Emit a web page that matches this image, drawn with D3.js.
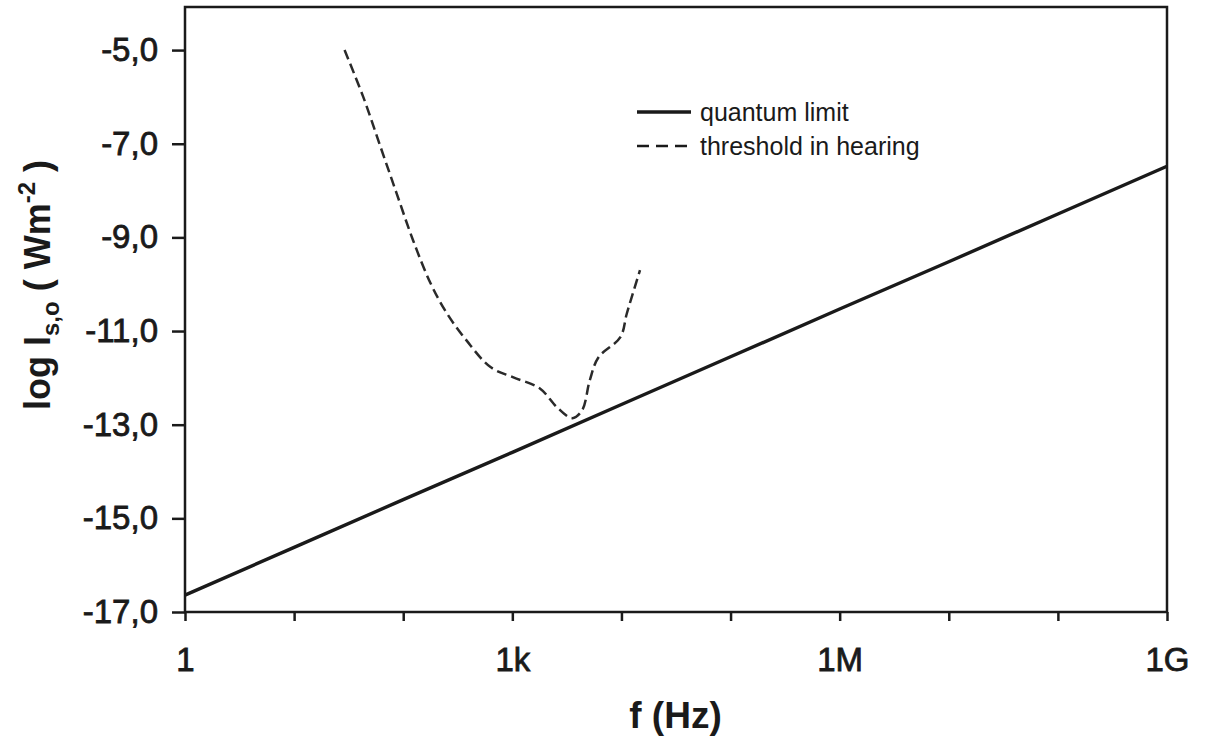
<!DOCTYPE html>
<html>
<head>
<meta charset="utf-8">
<title>Quantum limit vs hearing threshold</title>
<script src="https://cdn.jsdelivr.net/npm/d3@7"></script>
<style>
  body { margin: 0; background: #fff; }
  text { font-family: "Liberation Sans", Arial, sans-serif; fill: #1a1a1a; }
</style>
</head>
<body>
<div id="chart"></div>
<script>
// quantum limit, log I at each decade of f (1 Hz ... 1 GHz)
var quantumFreq = [1, 1e1, 1e2, 1e3, 1e4, 1e5, 1e6, 1e7, 1e8, 1e9];
var quantumLogI = [-16.64, -15.62, -14.6, -13.59, -12.57, -11.55, -10.53, -9.52, -8.5, -7.48];

// threshold in hearing
var hearingFreq = [29, 43, 62, 87, 123, 178, 251, 380, 631, 1023, 1778, 2570, 3548, 4365, 5129, 6166, 9772, 11220, 14791];
var hearingLogI = [-5.0, -6.0, -7.07, -8.06, -9.06, -9.98, -10.62, -11.2, -11.77, -11.99, -12.22, -12.63, -12.86, -12.69, -12.05, -11.56, -11.13, -10.62, -9.7];

var yTicks = [-5, -7, -9, -11, -13, -15, -17];
var xTicks = [1, 1e1, 1e2, 1e3, 1e4, 1e5, 1e6, 1e7, 1e8, 1e9];
var xTickLabels = {1: "1", 1e3: "1k", 1e6: "1M", 1e9: "1G"};

var legendNames = ["quantum limit", "threshold in hearing"];

var width = 1207, height = 740;
var plotLeft = 185, plotRight = 1167, plotTop = 7, plotBottom = 612;

var svg = d3.select("#chart").append("svg")
  .attr("width", width)
  .attr("height", height);

var x = d3.scaleLog().domain([1, 1e9]).range([plotLeft, plotRight]);
var y = d3.scaleLinear().domain([-17, -4.08]).range([plotBottom, plotTop]);

// frame
svg.append("rect")
  .attr("x", plotLeft).attr("y", plotTop)
  .attr("width", plotRight - plotLeft).attr("height", plotBottom - plotTop)
  .attr("fill", "none").attr("stroke", "#1a1a1a").attr("stroke-width", 2.5);

// axes
var xAxis = d3.axisBottom(x)
  .tickValues(xTicks)
  .tickSize(9)
  .tickPadding(27)
  .tickFormat(function(d) { return xTickLabels[d] || ""; });

var gx = svg.append("g").attr("transform", "translate(0," + plotBottom + ")").call(xAxis);
gx.select(".domain").remove();
gx.selectAll("line").attr("stroke", "#1a1a1a").attr("stroke-width", 2.5);
gx.selectAll("text")
  .style("font-size", "33px")
  .attr("fill", "#1a1a1a")
  .attr("stroke", "#1a1a1a").attr("stroke-width", 0.8);

var yAxis = d3.axisLeft(y)
  .tickValues(yTicks)
  .tickSize(13)
  .tickPadding(14)
  .tickFormat(function(d) { return d3.format(".1f")(d).replace(".", ",").replace("−", "-"); });

var gy = svg.append("g").attr("transform", "translate(" + plotLeft + ",0)").call(yAxis);
gy.select(".domain").remove();
gy.selectAll("line").attr("stroke", "#1a1a1a").attr("stroke-width", 2.5);
gy.selectAll("text")
  .style("font-size", "33px")
  .attr("fill", "#1a1a1a")
  .attr("stroke", "#1a1a1a").attr("stroke-width", 0.8);

// lines
var quantumLine = d3.line()
  .x(function(d, i) { return x(quantumFreq[i]); })
  .y(function(d) { return y(d); });

svg.append("path")
  .datum(quantumLogI)
  .attr("d", quantumLine)
  .attr("fill", "none")
  .attr("stroke", "#1a1a1a")
  .attr("stroke-width", 3.4);

var hearingLine = d3.line()
  .curve(d3.curveCatmullRom)
  .x(function(d, i) { return x(hearingFreq[i]); })
  .y(function(d) { return y(d); });

svg.append("path")
  .datum(hearingLogI)
  .attr("d", hearingLine)
  .attr("fill", "none")
  .attr("stroke", "#2a2a2a")
  .attr("stroke-width", 2.5)
  .attr("stroke-dasharray", "10,5");

// legend
var legend = svg.append("g").attr("transform", "translate(637,112)");
legend.selectAll("line").data(legendNames).enter().append("line")
  .attr("x1", 0).attr("x2", 54)
  .attr("y1", function(d, i) { return i * 34; })
  .attr("y2", function(d, i) { return i * 34; })
  .attr("stroke", "#1a1a1a")
  .attr("stroke-width", function(d, i) { return i == 0 ? 3.4 : 2.5; })
  .attr("stroke-dasharray", function(d, i) { return i == 0 ? null : "12,7"; });
legend.selectAll("text").data(legendNames).enter().append("text")
  .attr("x", 63)
  .attr("y", function(d, i) { return i * 34; })
  .attr("dy", "0.35em")
  .style("font-size", "25px")
  .text(function(d) { return d; });

// axis titles
svg.append("text")
  .attr("x", (plotLeft + plotRight) / 2 - 0.5)
  .attr("y", 728)
  .attr("text-anchor", "middle")
  .style("font-size", "37px")
  .style("font-weight", "bold")
  .text("f (Hz)");

var yTitle = svg.append("text")
  .attr("transform", "translate(50,285) rotate(-90)")
  .attr("text-anchor", "middle")
  .style("font-size", "36px")
  .style("font-weight", "bold");
yTitle.append("tspan").text("log I");
yTitle.append("tspan").attr("dy", 9).style("font-size", "24px").text("s,o");
yTitle.append("tspan").attr("dy", -9).text(" ( Wm");
yTitle.append("tspan").attr("dy", -15).style("font-size", "24px").text("-2");
yTitle.append("tspan").attr("dy", 15).text(" )");
</script>
</body>
</html>
